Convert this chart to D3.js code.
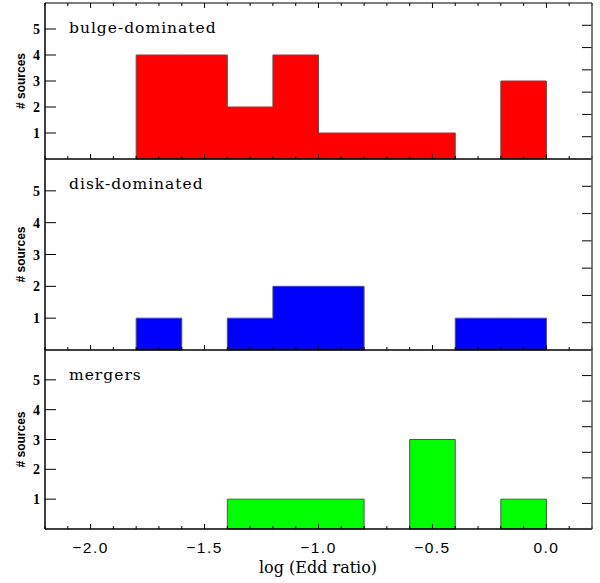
<!DOCTYPE html>
<html><head><meta charset="utf-8">
<script src="https://cdn.jsdelivr.net/npm/d3@7"></script>
<style>body{margin:0;background:#fff}</style>
</head><body>
<svg id="c" width="600" height="583"></svg>
<script>
const binStarts = [-1.8, -1.6, -1.4, -1.2, -1.0, -0.8, -0.6, -0.4, -0.2];
const binWidth = 0.2;
const bulge   = [4, 4, 2, 4, 1, 1, 1, 0, 3];
const disk    = [1, 0, 1, 2, 2, 0, 0, 1, 1];
const mergers = [0, 0, 1, 1, 1, 0, 3, 0, 1];
const panelNames = ["bulge-dominated", "disk-dominated", "mergers"];
const panelColors = ["#ff0000", "#0000ff", "#00ff00"];
const xTicks = [-2.0, -1.5, -1.0, -0.5, 0.0];
const yTicks = [1, 2, 3, 4, 5];

const series = [bulge, disk, mergers];
const svg = d3.select("#c");
const L = 45, R = 592;
const x = d3.scaleLinear().domain([-2.2, 0.2]).range([L, R]);
const panels = [[3, 159], [159, 350], [350, 529]];
const minor = d3.range(-22, 3).map(d => d / 10);

panels.forEach(([top, bot], i) => {
  const y = d3.scaleLinear().domain([0, 6]).range([bot, top]);
  const g = svg.append("g");
  const data = binStarts.map((b, j) => ({x0: b, x1: b + binWidth, v: series[i][j]}));
  const runs = [];
  let cur = null;
  data.forEach(d => {
    if (d.v > 0) { if (!cur) { cur = []; runs.push(cur); } cur.push(d); }
    else cur = null;
  });
  runs.forEach(run => {
    const p = d3.path();
    p.moveTo(x(run[0].x0), y(0));
    run.forEach(d => { p.lineTo(x(d.x0), y(d.v)); p.lineTo(x(d.x1), y(d.v)); });
    p.lineTo(x(run[run.length - 1].x1), y(0));
    p.closePath();
    g.append("path").attr("d", p.toString()).attr("fill", panelColors[i])
      .attr("stroke", "#555").attr("stroke-width", 1);
  });
  g.selectAll(".yt").data(yTicks).enter().append("line")
    .attr("x1", L).attr("x2", L + 11).attr("y1", d => y(d)).attr("y2", d => y(d))
    .attr("stroke", "#000").attr("stroke-width", 1);
  g.selectAll(".yl").data(yTicks).enter().append("text")
    .attr("x", L - 5).attr("y", d => y(d) + 5).attr("text-anchor", "end")
    .attr("font-family", "Liberation Serif").attr("font-weight", "bold").attr("font-size", 14)
    .text(d => d);
  const rt = d3.range(1, 7).map(k => top + (bot - top) * k / 7);
  g.selectAll(".rt").data(rt).enter().append("line")
    .attr("x1", R - 10).attr("x2", R).attr("y1", d => d).attr("y2", d => d)
    .attr("stroke", "#000").attr("stroke-width", 1);
  g.selectAll(".bt").data(minor).enter().append("line")
    .attr("x1", d => x(d)).attr("x2", d => x(d))
    .attr("y1", bot).attr("y2", d => bot - (Math.abs(Math.round(d * 10)) % 5 === 0 ? 5 : 3))
    .attr("stroke", "#000").attr("stroke-width", 1);
  if (i === 0) {
    g.selectAll(".tt").data(minor).enter().append("line")
      .attr("x1", d => x(d)).attr("x2", d => x(d))
      .attr("y1", top).attr("y2", d => top + (Math.abs(Math.round(d * 10)) % 5 === 0 ? 5 : 3))
      .attr("stroke", "#000").attr("stroke-width", 1);
  }
  g.append("line").attr("x1", L).attr("x2", R).attr("y1", bot).attr("y2", bot)
    .attr("stroke", "#000").attr("stroke-width", 1.5);
  g.append("text").attr("x", 69).attr("y", top + 30)
    .attr("font-family", "DejaVu Serif").attr("font-size", 15.5).attr("letter-spacing", 1)
    .text(panelNames[i]);
  const cy = y(3);
  g.append("text").attr("transform", `translate(25,${cy}) rotate(-90)`)
    .attr("text-anchor", "middle").attr("font-family", "Liberation Sans").attr("font-weight", "bold")
    .attr("font-size", 12).text("# sources");
});
svg.append("line").attr("x1", L).attr("x2", R).attr("y1", 3).attr("y2", 3).attr("stroke", "#000").attr("stroke-width", 1);
svg.append("line").attr("x1", L).attr("x2", L).attr("y1", 3).attr("y2", 529).attr("stroke", "#000").attr("stroke-width", 1.5);
svg.append("line").attr("x1", R).attr("x2", R).attr("y1", 3).attr("y2", 529).attr("stroke", "#555").attr("stroke-width", 1.5);
svg.selectAll(".xl").data(xTicks).enter().append("text")
  .attr("x", d => x(d)).attr("y", 553).attr("text-anchor", "middle")
  .attr("font-family", "Liberation Sans").attr("font-size", 15.5).attr("letter-spacing", 1.5)
  .text(d => d3.format(".1f")(d).replace("-", "\u2212"));
svg.append("text").attr("x", 318).attr("y", 573).attr("text-anchor", "middle")
  .attr("font-family", "DejaVu Serif").attr("font-size", 16).text("log (Edd ratio)");
</script>
</body></html>
